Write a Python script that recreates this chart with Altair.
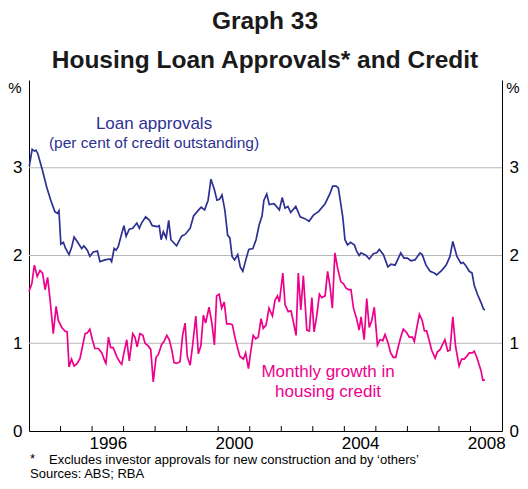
import altair as alt
import pandas as pd

# Loan approvals (per cent of credit outstanding)
approvals_year = [
    1994.01, 1994.10, 1994.17, 1994.22, 1994.28, 1994.42, 1994.56, 1994.69, 1994.82, 1994.90,
    1994.95, 1995.01, 1995.09, 1995.16, 1995.27, 1995.35, 1995.43, 1995.53, 1995.67, 1995.74,
    1995.85, 1995.93, 1996.04, 1996.17, 1996.25, 1996.41, 1996.57, 1996.62, 1996.70, 1996.76,
    1996.83, 1996.94, 1997.01, 1997.08, 1997.18, 1997.29, 1997.42, 1997.50, 1997.57, 1997.70,
    1997.82, 1997.91, 1998.07, 1998.13, 1998.19, 1998.26, 1998.35, 1998.43, 1998.50, 1998.68,
    1998.84, 1998.95, 1999.11, 1999.22, 1999.38, 1999.46, 1999.57, 1999.68, 1999.77, 1999.88,
    1999.96, 2000.04, 2000.12, 2000.21, 2000.30, 2000.37, 2000.44, 2000.52, 2000.62, 2000.70,
    2000.78, 2000.86, 2000.97, 2001.10, 2001.20, 2001.30, 2001.39, 2001.45, 2001.54, 2001.62,
    2001.77, 2001.94, 2002.03, 2002.12, 2002.21, 2002.30, 2002.46, 2002.60, 2002.75, 2002.88,
    2003.02, 2003.18, 2003.39, 2003.55, 2003.63, 2003.74, 2003.81, 2003.95, 2004.02, 2004.10,
    2004.20, 2004.32, 2004.39, 2004.47, 2004.53, 2004.69, 2004.79, 2004.92, 2005.03, 2005.11,
    2005.24, 2005.38, 2005.48, 2005.61, 2005.79, 2005.89, 2006.00, 2006.11, 2006.24, 2006.40,
    2006.47, 2006.59, 2006.72, 2006.85, 2006.93, 2007.09, 2007.23, 2007.35, 2007.44, 2007.57,
    2007.70, 2007.77, 2007.86, 2007.96, 2008.05, 2008.12, 2008.23, 2008.34, 2008.41, 2008.46,
]
approvals_value = [
    3.02, 3.21, 3.19, 3.20, 3.16, 2.98, 2.78, 2.63, 2.50, 2.48,
    2.51, 2.13, 2.15, 2.08, 2.01, 2.09, 2.21, 2.16, 2.08, 2.11,
    2.06, 1.99, 2.04, 2.05, 1.93, 1.95, 1.96, 1.93, 2.08, 2.06,
    2.10, 2.25, 2.34, 2.22, 2.30, 2.31, 2.37, 2.31, 2.37, 2.44,
    2.40, 2.34, 2.33, 2.34, 2.18, 2.27, 2.20, 2.40, 2.18, 2.11,
    2.22, 2.24, 2.31, 2.45, 2.52, 2.55, 2.52, 2.63, 2.87, 2.75,
    2.63, 2.64, 2.69, 2.52, 2.23, 2.20, 1.99, 1.95, 2.01, 1.87,
    1.82, 1.93, 2.07, 2.08, 2.18, 2.35, 2.45, 2.63, 2.70, 2.58,
    2.59, 2.52, 2.66, 2.54, 2.56, 2.49, 2.56, 2.44, 2.42, 2.39,
    2.46, 2.50, 2.59, 2.71, 2.79, 2.79, 2.77, 2.44, 2.18, 2.12,
    2.15, 2.12, 2.05, 2.00, 2.03, 2.00, 1.96, 2.02, 2.03, 2.07,
    2.01, 1.87, 1.90, 1.89, 2.03, 1.97, 1.97, 1.94, 1.95, 2.03,
    2.01, 1.89, 1.82, 1.80, 1.78, 1.83, 1.89, 1.99, 2.16, 1.99,
    1.91, 1.92, 1.88, 1.82, 1.80, 1.66, 1.55, 1.46, 1.39, 1.38,
]

# Monthly growth in housing credit (%)
growth_year = [
    1994.00, 1994.09, 1994.17, 1994.26, 1994.35, 1994.43, 1994.51, 1994.59, 1994.67, 1994.77,
    1994.86, 1994.93, 1995.04, 1995.14, 1995.21, 1995.27, 1995.35, 1995.43, 1995.53, 1995.62,
    1995.67, 1995.78, 1995.85, 1995.93, 1996.01, 1996.09, 1996.20, 1996.31, 1996.41, 1996.44,
    1996.52, 1996.59, 1996.67, 1996.78, 1996.89, 1996.94, 1997.01, 1997.10, 1997.18, 1997.29,
    1997.36, 1997.43, 1997.52, 1997.61, 1997.68, 1997.78, 1997.86, 1997.94, 1998.03, 1998.10,
    1998.21, 1998.28, 1998.37, 1998.45, 1998.53, 1998.60, 1998.68, 1998.79, 1998.87, 1998.95,
    1999.02, 1999.11, 1999.19, 1999.29, 1999.37, 1999.45, 1999.53, 1999.60, 1999.71, 1999.80,
    1999.88, 1999.95, 2000.03, 2000.11, 2000.19, 2000.27, 2000.38, 2000.45, 2000.53, 2000.62,
    2000.69, 2000.80, 2000.87, 2000.96, 2001.03, 2001.11, 2001.19, 2001.27, 2001.36, 2001.43,
    2001.52, 2001.61, 2001.72, 2001.80, 2001.88, 2001.94, 2002.05, 2002.12, 2002.22, 2002.31,
    2002.38, 2002.47, 2002.54, 2002.62, 2002.70, 2002.81, 2002.89, 2002.97, 2003.04, 2003.12,
    2003.21, 2003.28, 2003.39, 2003.47, 2003.55, 2003.62, 2003.70, 2003.79, 2003.89, 2003.97,
    2004.05, 2004.13, 2004.21, 2004.29, 2004.39, 2004.47, 2004.53, 2004.63, 2004.71, 2004.79,
    2004.87, 2004.95, 2005.05, 2005.13, 2005.22, 2005.29, 2005.38, 2005.47, 2005.55, 2005.63,
    2005.71, 2005.79, 2005.87, 2005.98, 2006.06, 2006.16, 2006.22, 2006.30, 2006.38, 2006.47,
    2006.54, 2006.61, 2006.70, 2006.77, 2006.88, 2006.95, 2007.04, 2007.12, 2007.19, 2007.28,
    2007.35, 2007.44, 2007.53, 2007.64, 2007.72, 2007.80, 2007.88, 2007.96, 2008.06, 2008.12,
    2008.20, 2008.28, 2008.34, 2008.39, 2008.46,
]
growth_value = [
    1.59, 1.68, 1.89, 1.76, 1.83, 1.80, 1.61, 1.75, 1.49, 1.11,
    1.42, 1.26, 1.18, 1.14, 1.13, 0.73, 0.82, 0.74, 0.77, 0.83,
    0.92, 1.11, 1.12, 1.16, 1.04, 0.94, 0.94, 0.89, 0.79, 0.77,
    1.07, 0.95, 0.95, 0.85, 0.78, 0.76, 0.89, 1.04, 0.80, 1.11,
    1.07, 0.96, 1.11, 1.09, 1.00, 0.97, 0.93, 0.56, 0.84, 0.87,
    0.99, 1.02, 1.09, 1.04, 0.92, 0.78, 0.77, 0.79, 1.09, 1.23,
    0.85, 0.75, 0.98, 1.31, 0.88, 0.97, 1.32, 1.23, 1.41, 1.23,
    0.98, 1.54, 1.56, 1.40, 1.47, 1.22, 1.22, 1.21, 1.07, 0.94,
    0.85, 0.82, 0.89, 0.71, 0.90, 1.09, 1.05, 1.07, 1.28, 1.17,
    1.21, 1.40, 1.31, 1.49, 1.54, 1.47, 1.80, 1.44, 1.36, 1.37,
    1.25, 1.09, 1.80, 1.38, 1.77, 1.15, 1.14, 1.52, 1.13, 1.30,
    1.56, 1.52, 1.54, 1.82, 1.64, 1.40, 2.03, 1.85, 1.70, 1.68,
    1.63, 1.61, 1.61, 1.40, 1.28, 1.15, 1.30, 1.04, 1.51, 1.18,
    1.26, 1.41, 0.98, 1.04, 1.03, 1.10, 1.01, 0.89, 0.84, 0.84,
    0.96, 1.07, 1.16, 1.12, 1.07, 1.07, 1.02, 1.18, 1.33, 1.26,
    1.14, 1.14, 1.02, 0.92, 0.83, 0.90, 0.93, 0.99, 1.04, 0.91,
    0.92, 1.30, 0.96, 0.74, 0.82, 0.82, 0.85, 0.89, 0.89, 0.91,
    0.84, 0.75, 0.68, 0.58, 0.58,
]

year_boundaries = list(range(1995, 2009))
year_label_positions = [1996.5, 2000.5, 2004.5, 2008.5]
y_label_values = [0, 1, 2, 3]
grid_values = [1, 2, 3]

title_text = "Graph 33"
subtitle_text = "Housing Loan Approvals* and Credit"
approvals_label = ["Loan approvals", "(per cent of credit outstanding)"]
growth_label = ["Monthly growth in", "housing credit"]
footnote_star = "*"
footnote_text = "Excludes investor approvals for new construction and by \u2018others\u2019"
sources_text = "Sources: ABS; RBA"

FONT = "Liberation Sans"
BLUE = "#2e3192"
PINK = "#ec008c"
W, H = 473, 351

approvals = pd.DataFrame({"year": approvals_year, "value": approvals_value})
growth = pd.DataFrame({"year": growth_year, "value": growth_value})

xs = alt.Scale(domain=[1994, 2009], nice=False, zero=False)
ys = alt.Scale(domain=[0, 4], nice=False, zero=False)

grid = alt.Chart(pd.DataFrame({"g": grid_values})).mark_rule(
    color="#b8b8b8", strokeWidth=1
).encode(
    y=alt.Y("g:Q", scale=ys, axis=alt.Axis(
        orient="left", values=y_label_values, title=None, ticks=False, grid=False,
        domain=True, domainColor="#000000", domainWidth=1,
        labelFont=FONT, labelFontSize=17, labelColor="#000000", labelPadding=7,
    )),
    x=alt.value(0),
    x2=alt.value(W),
)

ticks = alt.Chart(pd.DataFrame({"yr": year_boundaries})).mark_rule(
    color="#000000", strokeWidth=1
).encode(
    x=alt.X("yr:Q", scale=xs, axis=None),
    y=alt.value(H),
    y2=alt.value(H - 5),
)

blue_line = alt.Chart(approvals).mark_line(color=BLUE, strokeWidth=1.7).encode(
    x=alt.X("year:Q", scale=xs, axis=alt.Axis(
        orient="bottom", values=year_label_positions, labelExpr="floor(datum.value)",
        title=None, ticks=False, grid=False, domain=True, domainColor="#000000",
        domainWidth=1, labelFont=FONT, labelFontSize=17, labelColor="#000000",
        labelPadding=4,
    )),
    y=alt.Y("value:Q", scale=ys, axis=None),
)

pink_line = alt.Chart(growth).mark_line(color=PINK, strokeWidth=1.7).encode(
    x=alt.X("year:Q", scale=xs, axis=None),
    y=alt.Y("value:Q", scale=ys, axis=alt.Axis(
        orient="right", values=y_label_values, title=None, ticks=False, grid=False,
        domain=True, domainColor="#000000", domainWidth=1,
        labelFont=FONT, labelFontSize=17, labelColor="#000000", labelPadding=7,
    )),
)

one = pd.DataFrame({"k": [0]})


def label(text, x, y, size, color="#000000", weight="normal", align="center"):
    return alt.Chart(one).mark_text(
        font=FONT, fontSize=size, color=color, fontWeight=weight, align=align,
        baseline="middle",
    ).encode(x=alt.value(x), y=alt.value(y), text=alt.value(text))


texts = [
    label(title_text, 236, -58, 24.5, "#1a1a1a", "bold"),
    label(subtitle_text, 236, -19, 24.5, "#1a1a1a", "bold"),
    label("%", -14, 8, 15),
    label("%", 484, 8, 15),
    label(approvals_label[0], 125, 44, 17, BLUE),
    label(approvals_label[1], 125, 63, 15.5, BLUE),
    label(growth_label[0], 299, 292, 17, PINK),
    label(growth_label[1], 299, 312, 17, PINK),
    label(footnote_star, 1, 379, 13, align="left"),
    label(footnote_text, 20, 380, 13, align="left"),
    label(sources_text, 1, 394, 13, align="left"),
]

chart = alt.layer(grid, ticks, blue_line, pink_line, *texts).resolve_axis(
    x="independent", y="independent"
).properties(
    width=W, height=H,
    autosize=alt.AutoSizeParams(type="none"),
    padding={"left": 21, "top": 72, "right": 18, "bottom": 50},
).configure_view(stroke=None)

chart.save("out.html", embed_options={"renderer": "svg", "actions": False})
